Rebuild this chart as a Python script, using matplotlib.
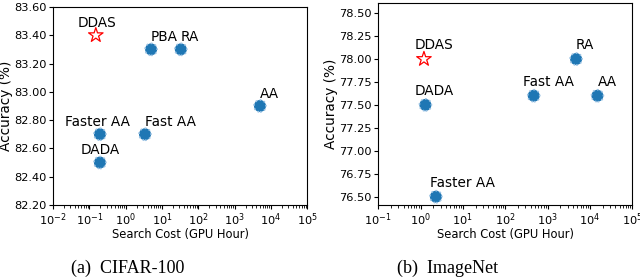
import matplotlib
matplotlib.use("Agg")
import matplotlib.pyplot as plt
import matplotlib.ticker as ticker

# CIFAR-100
c_names = ["PBA", "RA", "AA", "Faster AA", "Fast AA", "DADA"]
c_cost = [5.0, 33.0, 5000.0, 0.195, 3.4, 0.195]
c_acc = [83.3, 83.3, 82.9, 82.7, 82.7, 82.5]
c_ddas_cost = 0.15
c_ddas_acc = 83.4

# ImageNet
i_names = ["RA", "Fast AA", "AA", "DADA", "Faster AA"]
i_cost = [4700.0, 470.0, 15000.0, 1.3, 2.3]
i_acc = [78.0, 77.6, 77.6, 77.5, 76.5]
i_ddas_cost = 1.2
i_ddas_acc = 78.0

# label placement (offset in points, horizontal alignment)
c_lab = {"PBA": (0, "left"), "RA": (0, "left"), "AA": (0, "left"),
         "Faster AA": (-2, "center"), "Fast AA": (0, "left"),
         "DADA": (0, "center"), "DDAS": (1, "center")}
i_lab = {"RA": (0, "left"), "Fast AA": (-8, "left"), "AA": (0, "left"),
         "DADA": (-8, "left"), "Faster AA": (-4, "left"), "DDAS": (-7, "left")}

fig = plt.figure(figsize=(6.4, 2.77), dpi=100)
ax1 = fig.add_axes([0.083, 0.26, 0.397, 0.715])
ax2 = fig.add_axes([0.591, 0.26, 0.397, 0.729])


def draw(ax, names, cost, acc, dcost, dacc, lab, dy, xlim, ylim, yticks):
    ax.scatter(cost, acc, s=75, color="#1f77b4", edgecolors="#9cc3e4",
               linewidths=1.2, linestyle=":", zorder=3)
    ax.scatter([dcost], [dacc], s=120, marker="*", facecolors="none",
               edgecolors="red", linewidths=0.9, zorder=3)
    for n, x, y in zip(names + ["DDAS"], cost + [dcost], acc + [dacc]):
        dx, ha = lab[n]
        ax.annotate(n, (x, y), xytext=(dx, dy), textcoords="offset points",
                    ha=ha, va="baseline", fontsize=9.8)
    ax.set_xscale("log")
    ax.set_xlim(xlim)
    ax.set_ylim(ylim)
    ax.xaxis.set_major_locator(ticker.LogLocator(base=10, numticks=20))
    ax.xaxis.set_minor_locator(ticker.LogLocator(base=10, subs=range(2, 10), numticks=20))
    ax.xaxis.set_minor_formatter(ticker.NullFormatter())
    ax.set_yticks(yticks)
    ax.yaxis.set_major_formatter(ticker.FormatStrFormatter("%.2f"))
    ax.tick_params(labelsize=8.2, length=3, pad=1.5)
    ax.tick_params(which="minor", length=1.8)
    ax.set_xlabel("Search Cost (GPU Hour)", fontsize=8.3, labelpad=0)
    ax.set_ylabel("Accuracy (%)", fontsize=9.8, labelpad=1)


draw(ax1, c_names, c_cost, c_acc, c_ddas_cost, c_ddas_acc, c_lab, 6,
     (1e-2, 1e5), (82.2, 83.6), [82.2, 82.4, 82.6, 82.8, 83.0, 83.2, 83.4, 83.6])
draw(ax2, i_names, i_cost, i_acc, i_ddas_cost, i_ddas_acc, i_lab, 7,
     (1e-1, 1e5), (76.41, 78.61), [76.5, 76.75, 77.0, 77.25, 77.5, 77.75, 78.0, 78.25, 78.5])

serif = ["Liberation Serif", "DejaVu Serif"]
fig.text(0.2, 1 - 273 / 277, "(a)  CIFAR-100", ha="center", va="baseline",
         fontsize=13, family=serif)
fig.text(0.7, 1 - 273 / 277, "(b)  ImageNet", ha="center", va="baseline",
         fontsize=13, family=serif)

fig.savefig("out.png", dpi=100)
